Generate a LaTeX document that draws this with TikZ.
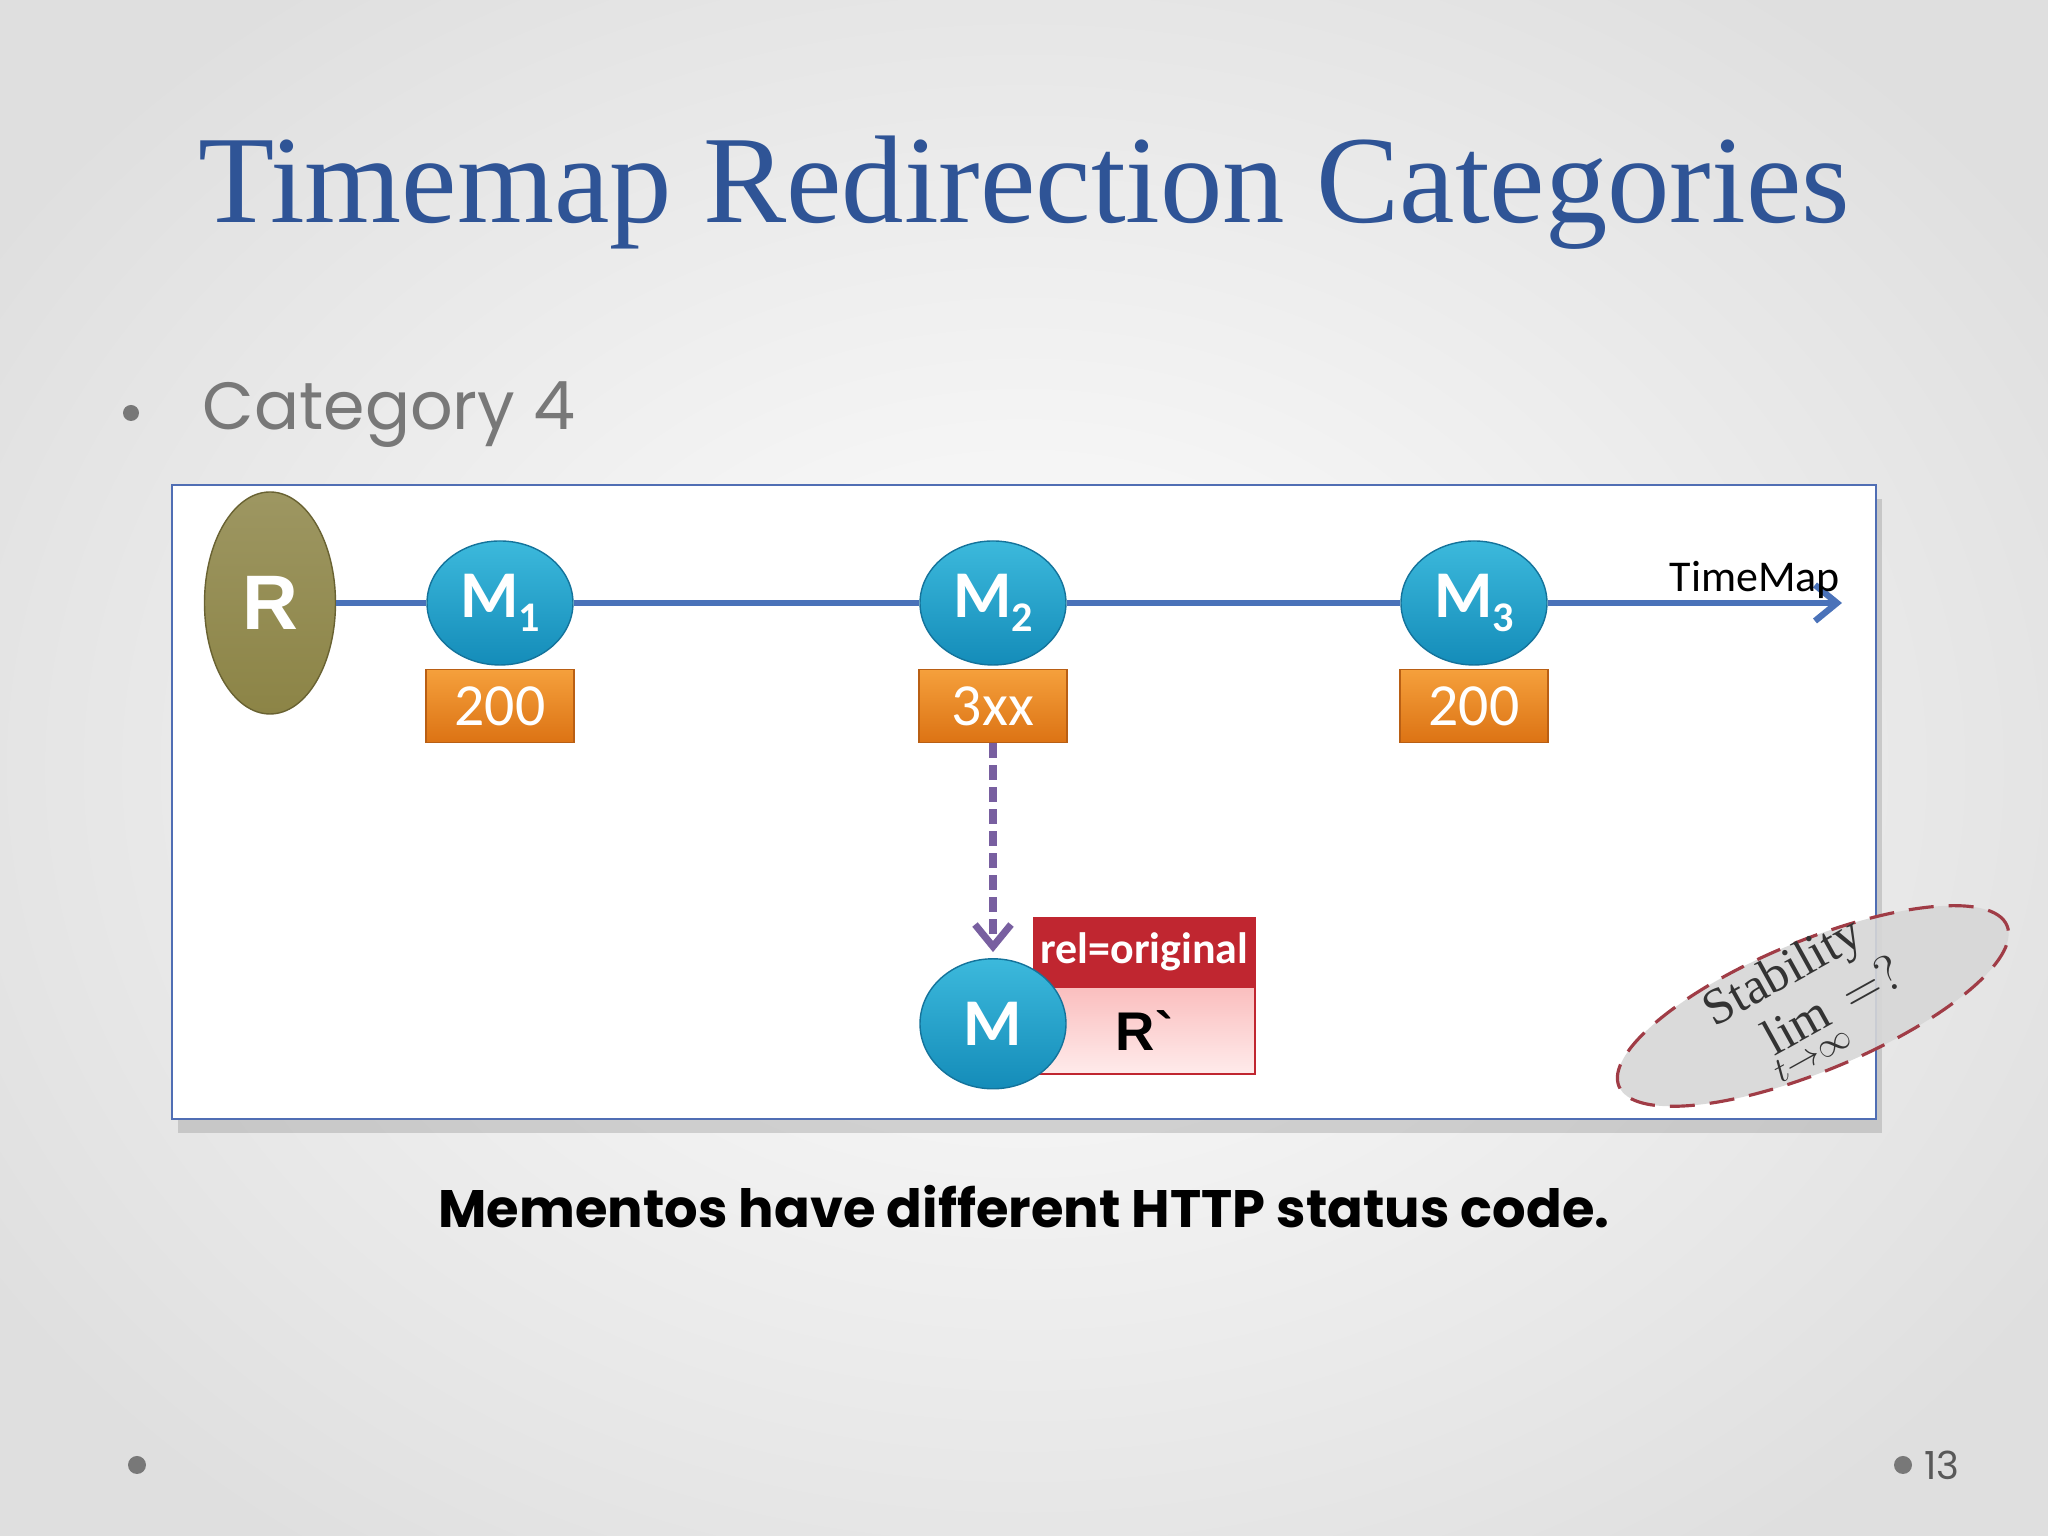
\documentclass[tikz,border=0pt]{standalone}
\usepackage{fontspec}
\setmainfont{Liberation Serif}
\setsansfont{Carlito}
\newfontfamily\gothic{Poppins}
\newfontfamily\arialf{Liberation Sans}
\usetikzlibrary{calc, positioning, shapes.geometric, shadows, arrows.meta}

\definecolor{titleblue}{RGB}{47,84,150}
\definecolor{textgray}{RGB}{120,120,120}
\definecolor{panelblue}{RGB}{80,110,180}
\definecolor{lineblue}{RGB}{74,114,185}
\definecolor{olivefill}{RGB}{140,132,70}
\definecolor{oliveedge}{RGB}{105,98,50}
\definecolor{memtop}{RGB}{60,185,220}
\definecolor{membot}{RGB}{20,140,185}
\definecolor{memedge}{RGB}{20,115,155}
\definecolor{codetop}{RGB}{245,160,60}
\definecolor{codebot}{RGB}{220,115,20}
\definecolor{codeedge}{RGB}{185,95,20}
\definecolor{redirpurple}{RGB}{120,95,160}
\definecolor{relred}{RGB}{192,38,48}
\definecolor{pinktop}{RGB}{250,190,190}
\definecolor{pinkbot}{RGB}{255,235,235}
\definecolor{stabred}{RGB}{160,60,70}
\definecolor{stabgray}{RGB}{215,215,215}

\newcommand{\msub}[1]{\raisebox{-0.45ex}{\fontsize{12}{12}\selectfont #1}}

\begin{document}
\begin{tikzpicture}[>={Straight Barb[length=0.22cm,width=0.36cm]},
  memento/.style={ellipse, minimum width=1.46cm, minimum height=1.24cm, inner sep=0pt,
    draw=memedge, top color=memtop, bottom color=membot, text=white,
    font=\sffamily\bfseries\fontsize{19}{19}\selectfont},
  codebox/.style={rectangle, minimum width=1.48cm, minimum height=0.73cm, inner sep=0pt,
    draw=codeedge, top color=codetop, bottom color=codebot, text=white,
    font=\sffamily\fontsize{17}{17}\selectfont},
  timeline/.style={lineblue, line width=1.8pt},
  redirect/.style={redirpurple, line width=2pt, dash pattern=on 0.15cm off 0.07cm},
  dotbullet/.style={textgray}]
  \useasboundingbox (0,0) rectangle (20.48,15.36);
  \shade[inner color=white, outer color=gray!25] (-2,-2) rectangle (22.48,17.36);

  % heading
  \node[text=titleblue, font=\fontsize{35.5}{35.5}\selectfont] (title) at (10.24,13.43) {Timemap Redirection Categories};
  \fill[dotbullet] (1.31,11.23) circle [radius=.08];
  \node[anchor=west, inner sep=0pt, text=textgray, font=\gothic\fontsize{19}{19}\selectfont] (cat) at (2.02,11.21) {Category 4};

  % panel
  \filldraw[draw=panelblue, fill=white, line width=0.8pt,
    drop shadow={shadow xshift=0.06, shadow yshift=-0.14, opacity=0.3}] (1.72,4.17) rectangle (18.76,10.51);

  % timemap
  \node[ellipse, minimum width=1.31cm, minimum height=2.22cm, inner sep=0pt, draw=oliveedge,
    top color=olivefill!85!white, bottom color=olivefill, text=white,
    font=\arialf\bfseries\fontsize{22}{22}\selectfont] (res) at (2.70,9.33) {R};
  \node[memento] (m1) at (5.00,9.33) {M\msub{1}};
  \node[memento] (m2) at (9.93,9.33) {M\msub{2}};
  \node[memento] (m3) at (14.74,9.33) {M\msub{3}};
  \coordinate (tip) at (18.42,9.33);
  \draw[timeline] (res) -- (m1);
  \draw[timeline] (m1) -- (m2);
  \draw[timeline] (m2) -- (m3);
  \draw[timeline, ->] (m3) -- (tip);
  \node[font=\sffamily\fontsize{12.5}{12.5}\selectfont] (tmlabel) at (17.55,9.56) {TimeMap};

  \node[codebox, below=0.03cm of m1] (c1) {200};
  \node[codebox, below=0.03cm of m2] (c2) {3xx};
  \node[codebox, below=0.03cm of m3] (c3) {200};

  % redirect target
  \node[rectangle, minimum width=2.21cm, minimum height=0.87cm, inner sep=0pt, draw=relred,
    top color=pinktop, bottom color=pinkbot,
    font=\arialf\bfseries\fontsize{15.5}{15.5}\selectfont] (orig) at (11.445,5.055) {R\char96};
  \node[rectangle, minimum width=2.21cm, minimum height=0.68cm, inner sep=0pt, draw=relred,
    fill=relred, text=white, font=\sffamily\bfseries\fontsize{12.5}{12.5}\selectfont,
    above=0pt of orig] (rel) {rel=original};
  \node[memento, minimum height=1.30cm, below=2.15cm of c2] (mem) {M};
  \draw[redirect, ->, shorten >=0.06cm] (c2) -- (mem);

  % stability note
  \node[ellipse, rotate=22.5, minimum width=4.2cm, minimum height=1.3cm, draw=stabred,
    fill=stabgray, fill opacity=0.9, line width=0.9pt, dash pattern=on 0.25cm off 0.15cm] (stab) at (18.13,5.30) {};
  \node[rotate=29, text=black!80, align=left, inner sep=0pt, font=\fontsize{14.5}{14.5}\selectfont] (stabtxt) at (18.10,5.33)
    {Stability\\[1pt]\hspace*{0.6em}$\lim\limits_{t\to\infty}=?$};

  % caption and footer
  \node[font=\gothic\bfseries\fontsize{15}{15}\selectfont] (caption) at (10.24,3.29) {Mementos have different HTTP status code.};
  \fill[dotbullet] (1.37,0.71) circle [radius=.09];
  \fill[dotbullet] (19.03,0.71) circle [radius=.09];
  \node[anchor=west, text=black!65, font=\gothic\fontsize{11}{11}\selectfont] (pagenum) at (19.12,0.71) {13};
\end{tikzpicture}
\end{document}
